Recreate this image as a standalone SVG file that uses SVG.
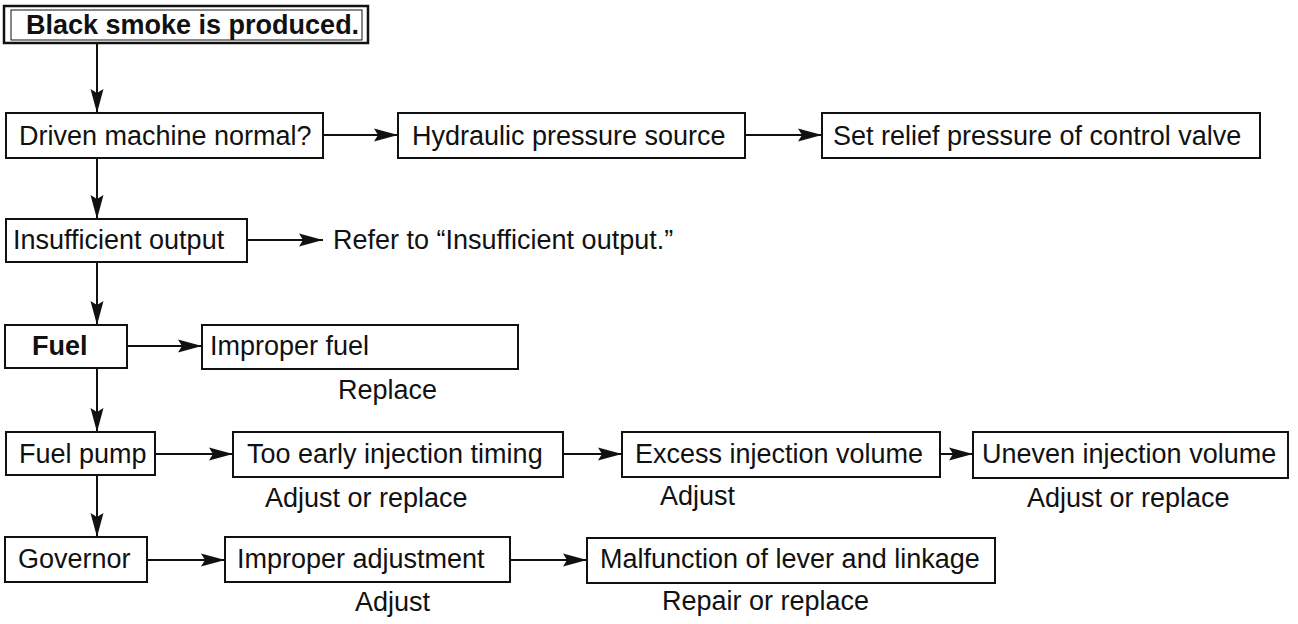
<svg xmlns="http://www.w3.org/2000/svg" width="1298" height="624" viewBox="0 0 1298 624">
<style>
.box{fill:#fff;stroke:#111;stroke-width:2}
.t{font-family:"Liberation Sans",Arial,sans-serif;font-size:27px;fill:#111}
.b{font-weight:bold}
.c{stroke:#111;stroke-width:2;fill:none;marker-end:url(#ah)}
</style>
<defs>
<marker id="ah" markerUnits="userSpaceOnUse" markerWidth="25" markerHeight="14" refX="24" refY="7" orient="auto">
<path d="M0,0.5 L24,7 L0,13.5 L4,7 z" fill="#111"/>
</marker>
</defs>
<rect width="1298" height="624" fill="#fff"/>
<g id="connectors">
<line class="c" x1="97" y1="43" x2="97" y2="113"/>
<line class="c" x1="97" y1="158" x2="97" y2="219"/>
<line class="c" x1="97" y1="262" x2="97" y2="325"/>
<line class="c" x1="97" y1="368" x2="97" y2="432"/>
<line class="c" x1="97" y1="475" x2="97" y2="537"/>
<line class="c" x1="323" y1="135" x2="398" y2="135"/>
<line class="c" x1="745" y1="135" x2="822" y2="135"/>
<line class="c" x1="247" y1="240" x2="323" y2="240"/>
<line class="c" x1="127" y1="346" x2="202" y2="346"/>
<line class="c" x1="155" y1="454" x2="233" y2="454"/>
<line class="c" x1="563" y1="454" x2="622" y2="454"/>
<line class="c" x1="940" y1="454" x2="973" y2="454"/>
<line class="c" x1="147" y1="560" x2="225" y2="560"/>
<line class="c" x1="510" y1="560" x2="587" y2="560"/>
</g>
<g id="start">
<rect x="4" y="6" width="364" height="37" fill="#fff" stroke="#111" stroke-width="2.5"/>
<rect x="11" y="10" width="351" height="30" fill="none" stroke="#111" stroke-width="1"/>
<text class="t b" x="26" y="34">Black smoke is produced.</text>
</g>
<g id="driven">
<rect class="box" x="6" y="113" width="317" height="45"/>
<text class="t" x="19" y="145">Driven machine normal?</text>
</g>
<g id="hydraulic">
<rect class="box" x="398" y="113" width="347" height="45"/>
<text class="t" x="412" y="145">Hydraulic pressure source</text>
</g>
<g id="relief">
<rect class="box" x="822" y="113" width="438" height="45"/>
<text class="t" x="833" y="145">Set relief pressure of control valve</text>
</g>
<g id="insufficient">
<rect class="box" x="6" y="219" width="241" height="43"/>
<text class="t" x="13" y="249">Insufficient output</text>
</g>
<g id="refer">
<text class="t" x="333" y="249">Refer to “Insufficient output.”</text>
</g>
<g id="fuel">
<rect class="box" x="5" y="325" width="122" height="43"/>
<text class="t b" x="32" y="355">Fuel</text>
</g>
<g id="improper-fuel">
<rect class="box" x="202" y="325" width="316" height="44"/>
<text class="t" x="210" y="355">Improper fuel</text>
<text class="t" x="338" y="399">Replace</text>
</g>
<g id="fuel-pump">
<rect class="box" x="6" y="432" width="149" height="43"/>
<text class="t" x="19" y="463">Fuel pump</text>
</g>
<g id="timing">
<rect class="box" x="233" y="432" width="330" height="45"/>
<text class="t" x="247" y="463">Too early injection timing</text>
<text class="t" x="265" y="507">Adjust or replace</text>
</g>
<g id="excess">
<rect class="box" x="622" y="432" width="318" height="45"/>
<text class="t" x="635" y="463">Excess injection volume</text>
<text class="t" x="660" y="505">Adjust</text>
</g>
<g id="uneven">
<rect class="box" x="973" y="432" width="315" height="46"/>
<text class="t" x="982" y="463">Uneven injection volume</text>
<text class="t" x="1027" y="507">Adjust or replace</text>
</g>
<g id="governor">
<rect class="box" x="5" y="537" width="142" height="45"/>
<text class="t" x="18" y="568">Governor</text>
</g>
<g id="adjustment">
<rect class="box" x="225" y="537" width="285" height="45"/>
<text class="t" x="237" y="568">Improper adjustment</text>
<text class="t" x="355" y="611">Adjust</text>
</g>
<g id="linkage">
<rect class="box" x="587" y="538" width="408" height="45"/>
<text class="t" x="600" y="568">Malfunction of lever and linkage</text>
<text class="t" x="662" y="610">Repair or replace</text>
</g>
</svg>
